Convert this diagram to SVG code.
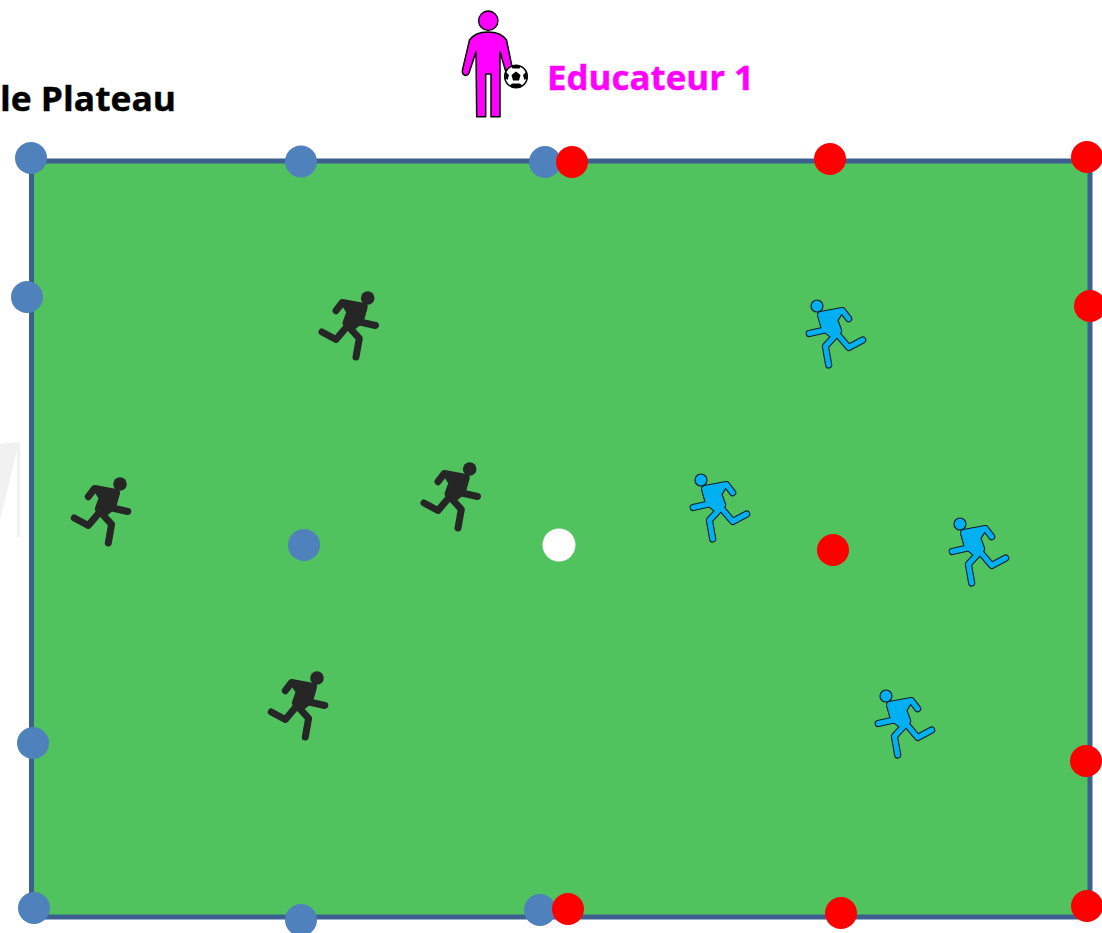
<svg xmlns="http://www.w3.org/2000/svg" xmlns:xlink="http://www.w3.org/1999/xlink" width="1102" height="933" viewBox="0 0 1102 933">
<style>
.b{fill:#4f81bd}.r{fill:#ff0000}
.t{font-family:"Open Sans","Liberation Sans",sans-serif;font-weight:700;stroke-width:.4}
.limb{stroke-linecap:round;stroke-linejoin:round}
</style>
<defs>
<g id="runner-shape">
<path fill="none" d="M336 310.7L342.3 302.5L364 306.5L360 322L375.5 325.5M350 323L336 339.5L322 332M348 326L359.3 338.3L356 357"/>
<path d="M345 304L364 307.5L360 321L351 328L346 323L350 312Z"/>
</g>
<g id="runner-black">
<use xlink:href="#runner-shape" class="limb" style="stroke:#262626;stroke-width:7;fill:#262626"/>
<circle cx="367.7" cy="298" r="6.8" fill="#262626"/>
</g>
<g id="runner-blue" transform="translate(1184.7 8) scale(-1 1)">
<use xlink:href="#runner-shape" class="limb" style="stroke:#12202e;stroke-width:7.2;fill:#12202e"/>
<use xlink:href="#runner-shape" class="limb" style="stroke:#00b0f0;stroke-width:5;fill:#00b0f0"/>
<circle cx="367.7" cy="298" r="6" fill="#00b0f0" stroke="#12202e" stroke-width="1.2"/>
</g>
</defs>
<rect width="1102" height="933" fill="#fff"/>
<g id="ghost" fill="#f1f1f1">
<path d="M0 444L19 442L0 520Z"/>
<rect x="17" y="442" width="3" height="95"/>
</g>
<rect id="field" x="31.5" y="161" width="1058.5" height="756" fill="#50c35f" stroke="#3c6090" stroke-width="5"/>
<g id="connectors"/>
<g id="title"><text class="t" x="0" y="111" font-size="34" stroke="#000" textLength="176" lengthAdjust="spacingAndGlyphs">le Plateau</text></g>
<g id="educateur">
<circle cx="488.3" cy="20.7" r="9.7" fill="#ff00ff" stroke="#000" stroke-width="1.3"/>
<path d="M488 32C480 32 473 35 469.5 40L462.5 70C461.5 76 467.5 77 469 73L476 51.7L476.7 116.7H485.7V74H491V116.7H500V51.7L506.5 74C509 77 513 74 512.7 70L506.5 40C503 35 496 32 488 32Z" fill="#ff00ff" stroke="#000" stroke-width="1.5" stroke-linejoin="round"/>
<circle cx="516" cy="76.5" r="11.3" fill="#fff" stroke="#000" stroke-width="1.5"/>
<path d="M516 71.5L520.5 75L519 80.5H513L511.5 75Z" fill="#000"/>
<path d="M511 66L516 65.2L521 66L519.5 68.5H512.5ZM526 72L527 78L524.5 80L523 75ZM506 72L505 78L507.5 80L509 75ZM510 85L513 87.5H519L522 85L519.5 83.5H512.5Z" fill="#000"/>
<text class="t" x="547" y="90" font-size="34.5" fill="#ff00ff" stroke="#ff00ff" textLength="207" lengthAdjust="spacingAndGlyphs">Educateur 1</text>
</g>
<g id="blue-dots" class="b">
<circle cx="31" cy="158" r="16"/><circle cx="301" cy="161.5" r="16"/><circle cx="545" cy="162" r="16"/>
<circle cx="27" cy="297" r="16"/><circle cx="304" cy="545" r="16"/><circle cx="33" cy="743" r="16"/>
<circle cx="34" cy="908" r="16"/><circle cx="301" cy="920" r="16"/><circle cx="540" cy="910" r="16"/>
</g>
<g id="red-dots" class="r">
<circle cx="572" cy="162" r="16"/><circle cx="830" cy="159" r="16"/><circle cx="1087" cy="157" r="16"/>
<circle cx="1090" cy="306" r="16"/><circle cx="833" cy="550" r="16"/><circle cx="1086" cy="761" r="16"/>
<circle cx="1087" cy="906" r="16"/><circle cx="841" cy="913" r="16"/><circle cx="568" cy="909" r="16"/>
</g>
<circle id="ball" cx="559" cy="545" r="16.5" fill="#fff"/>
<g id="black-team">
<use xlink:href="#runner-black"/>
<use xlink:href="#runner-black" x="-247.7" y="186"/>
<use xlink:href="#runner-black" x="102" y="171"/>
<use xlink:href="#runner-black" x="-50.7" y="380"/>
</g>
<g id="blue-team">
<use xlink:href="#runner-blue"/>
<use xlink:href="#runner-blue" x="-116" y="174"/>
<use xlink:href="#runner-blue" x="143" y="218"/>
<use xlink:href="#runner-blue" x="69" y="390"/>
</g>
</svg>
